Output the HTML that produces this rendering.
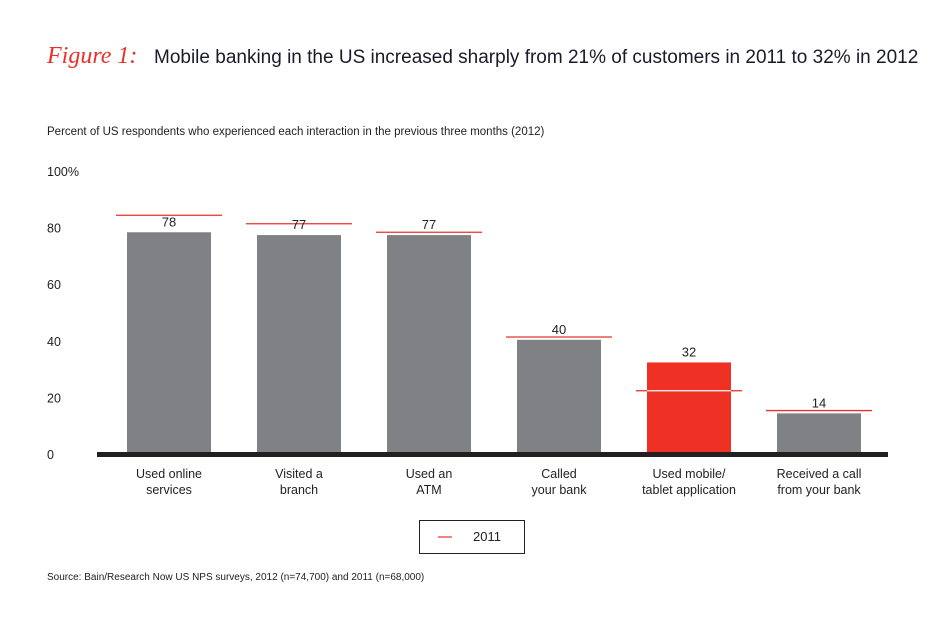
<!DOCTYPE html>
<html><head><meta charset="utf-8"><style>
body{margin:0;background:#fff;}
svg{display:block;font-family:"Liberation Sans",sans-serif;}
</style></head><body>
<svg id="chart" width="950" height="620" viewBox="0 0 950 620">
<text x="47" y="63" font-family="Liberation Serif,serif" font-style="italic" font-size="24" fill="#e8322a">Figure 1:</text>
<text x="154" y="63" font-size="19" fill="#1a1a2a">Mobile banking in the US increased sharply from 21% of customers in 2011 to 32% in 2012</text>
<text x="47" y="135" font-size="11.5" fill="#222">Percent of US respondents who experienced each interaction in the previous three months (2012)</text>
<g id="yaxis"></g>
<g id="bars"></g>
<g id="xlabels"></g>
<rect x="97" y="452" width="791" height="5" fill="#231f20"/>
<g>
<rect x="419.5" y="520.5" width="105" height="33" fill="none" stroke="#231f20" stroke-width="1"/>
<line x1="438" y1="537" x2="452" y2="537" stroke="#e8322a" stroke-width="1.2"/>
<text x="473" y="541" font-size="13" fill="#222">2011</text>
</g>
<text x="47" y="580" font-size="10" fill="#222">Source: Bain/Research Now US NPS surveys, 2012 (n=74,700) and 2011 (n=68,000)</text>
</svg>
<script>
const categories1 = ["Used online","Visited a","Used an","Called","Used mobile/","Received a call"];
const categories2 = ["services","branch","ATM","your bank","tablet application","from your bank"];
const values2012 = [78,77,77,40,32,14];
const values2011 = [84,81,78,41,22,15];
const highlight = [false,false,false,false,true,false];
const yTicks = [0,20,40,60,80,100];
const yTickLabels = ["0","20","40","60","80","100%"];

const NS="http://www.w3.org/2000/svg";
const y0=453, pxPer=2.83;
function yScale(v){return y0-v*pxPer;}
function xCenter(i){return 169+i*130;}
const barW=84;
function mk(tag,attrs,parent){const e=document.createElementNS(NS,tag);for(const k in attrs)e.setAttribute(k,attrs[k]);parent.appendChild(e);return e;}
const ya=document.getElementById('yaxis');
yTicks.forEach((t,i)=>{
  const tx=mk('text',{x:47,y:yScale(t)+6,'font-size':12.5,fill:'#222'},ya);
  
  
  tx.textContent=yTickLabels[i];
});
const bg=document.getElementById('bars');
const xl=document.getElementById('xlabels');
values2012.forEach((v,i)=>{
  const cx=xCenter(i);
  const r=mk('rect',{x:cx-barW/2,y:yScale(v),width:barW,height:y0-yScale(v),fill:highlight[i]?'#ee3124':'#808184'},bg);
  
  
  const l=mk('line',{x1:cx-53,x2:cx+53,y1:yScale(values2011[i]),y2:yScale(values2011[i]),stroke:highlight[i]?'#fff':'#e8322a','stroke-width':1.3},bg);
  
  
  if(highlight[i]){
    const l2=mk('line',{x1:cx-53,x2:cx-barW/2,y1:yScale(values2011[i]),y2:yScale(values2011[i]),stroke:'#e8322a','stroke-width':1.3},bg);
    
    
    const l3=mk('line',{x1:cx+barW/2,x2:cx+53,y1:yScale(values2011[i]),y2:yScale(values2011[i]),stroke:'#e8322a','stroke-width':1.3},bg);
    
    
  }
  const t=mk('text',{x:cx,y:yScale(v)-6,'font-size':13,fill:'#222','text-anchor':'middle'},bg);
  
  
  t.textContent=v;
  const a=mk('text',{x:cx,y:478,'font-size':12.5,fill:'#222','text-anchor':'middle'},xl);
  
  
  a.textContent=categories1[i];
  const b=mk('text',{x:cx,y:494,'font-size':12.5,fill:'#222','text-anchor':'middle'},xl);
  
  
  b.textContent=categories2[i];
});
</script>
</body></html>
